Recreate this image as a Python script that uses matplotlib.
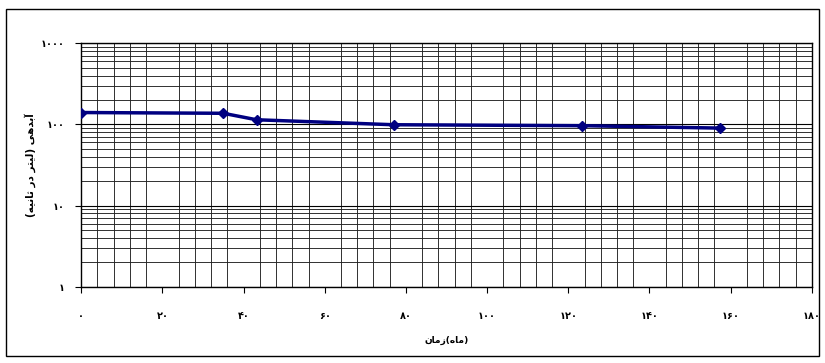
import matplotlib.pyplot as plt
from matplotlib.patches import Rectangle
from matplotlib.ticker import MultipleLocator, LogLocator, FixedLocator, NullFormatter

# data (months vs discharge)
months = [0, 35, 43.2, 77, 123.4, 157.5]
discharge = [140, 137, 114, 99, 96.4, 90]

x_ticks = [0, 20, 40, 60, 80, 100, 120, 140, 160, 180]
x_tick_labels = ['۰', '۲۰', '۴۰', '۶۰', '۸۰', '۱۰۰', '۱۲۰', '۱۴۰', '۱۶۰', '۱۸۰']
y_ticks = [1, 10, 100, 1000]
y_tick_labels = ['۱', '۱۰', '۱۰۰', '۱۰۰۰']

# Persian labels, pre-shaped (presentation forms) in visual order
x_title = '\uFEE5\uFE8E\uFEE3\uFEAF(\uFEE9\uFE8E\uFEE3)'
y_title = ('(\uFEEA\uFEF4\uFEE7\uFE8E\uFE9B \uFEAD\uFEA9 \uFEAE\uFE98\uFEF4\uFEDF) '
           '\uFEF0\uFEEB\uFEAA\uFE91\uFE81')

plt.rcParams['font.family'] = ['DejaVu Sans']

fig = plt.figure(figsize=(8.25, 3.63), dpi=100)
ax = fig.add_axes([0.0985, 0.210, 0.8855, 0.671])

ax.plot(months, discharge, color='#000080', linewidth=2.5, marker='D',
        markersize=5.5, zorder=5)

ax.set_yscale('log')
ax.set_xlim(0, 180)
ax.set_ylim(1, 1000)

ax.xaxis.set_major_locator(FixedLocator(x_ticks))
ax.set_xticklabels(x_tick_labels, fontsize=7, fontweight='bold')
ax.xaxis.set_minor_locator(MultipleLocator(4))
ax.yaxis.set_major_locator(FixedLocator(y_ticks))
ax.set_yticklabels(y_tick_labels, fontsize=7, fontweight='bold')
ax.yaxis.set_minor_locator(LogLocator(base=10, subs=range(2, 10)))
ax.yaxis.set_minor_formatter(NullFormatter())

ax.tick_params(axis='x', which='major', length=4, pad=13.5, direction='out')
ax.tick_params(axis='y', which='major', length=4, pad=8, direction='out')
ax.tick_params(which='minor', length=0)

ax.grid(True, which='major', axis='y', color='black', linewidth=0.8)
ax.grid(True, which='minor', axis='both', color='#222222', linewidth=0.65)
ax.set_axisbelow(True)
for s in ax.spines.values():
    s.set_color('black')
    s.set_linewidth(1)

ax.set_xlabel(x_title, fontsize=6.5, fontweight='bold', labelpad=10.5)
ax.set_ylabel(y_title, fontsize=7.5, fontweight='bold', labelpad=3)

# outer chart border
fig.patches.append(Rectangle((6 / 825, 1 - 356 / 363), 813 / 825, 347 / 363,
                             transform=fig.transFigure, fill=False,
                             edgecolor='black', linewidth=1))

fig.savefig('out.png', dpi=100)
